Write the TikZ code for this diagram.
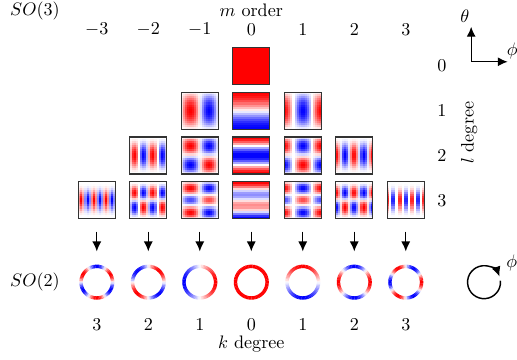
\documentclass[tikz,border=0pt]{standalone}
\usetikzlibrary{positioning,arrows.meta}

\tikzset{
  tile/.style={draw=black!80,line width=0.6pt},
  ring/.style={circle,minimum size=0.68cm,inner sep=0pt},
  seg/.style={line width=1.9pt}
}
\newcommand\bwrcolor[1]{%
  \pgfmathsetmacro\cr{max(0,min(1,1+#1))}%
  \pgfmathsetmacro\cg{max(0,1-abs(#1))}%
  \pgfmathsetmacro\cb{max(0,min(1,1-#1))}%
  \definecolor{cellc}{rgb}{\cr,\cg,\cb}}

\begin{document}
\begin{tikzpicture}[>={Latex[length=5.5pt,width=5pt]}]
            \useasboundingbox (0,0) rectangle (10.04,6.99);
            \node (so3) at (0.68,6.78) {$SO(3)$};
            \node (morder) at (4.88,6.78) {$m$ order};
            \foreach \i in {-3,...,3}
                \node (mlab\i) at (4.88+\i,6.41) {$\i$};
            \foreach \l in {0,...,3}
                \node (llab\l) at (8.58,5.71-0.87*\l) {$\l$};
            \node[rotate=90] (ldeg) at (9.11,4.41) {$l$ degree};
            \coordinate (ax) at (9.15,5.79);
            \coordinate (axth) at (9.15,6.47);
            \coordinate (axph) at (9.86,5.79);
            \draw[->,line width=0.7pt] (ax)--(axth);
            \draw[->,line width=0.7pt] (ax)--(axph);
            \node (th) at (9.03,6.68) {$\theta$};
            \node (ph) at (9.95,6.0) {$\phi$};
            \foreach \l/\m/\f in {0/0/{1},
                1/-1/{sin(\thv)*sin(\phv)}, 1/0/{cos(\thv)}, 1/1/{sin(\thv)*cos(\phv)},
                2/-2/{sin(\thv)*sin(\thv)*sin(2*\phv)}, 2/-1/{sin(2*\thv)*sin(\phv)}, 2/0/{cos(2*\thv)},
                2/1/{sin(2*\thv)*cos(\phv)}, 2/2/{sin(\thv)*sin(\thv)*cos(2*\phv)},
                3/-3/{sin(\thv)*sin(\thv)*sin(\thv)*sin(3*\phv)},
                3/-2/{sin(\thv)*sin(\thv)*cos(\thv)*sin(2*\phv)/0.385},
                3/-1/{sin(\thv)*(5*cos(\thv)*cos(\thv)-1)*sin(\phv)/1.377},
                3/0/{(5*cos(\thv)*cos(\thv)*cos(\thv)-3*cos(\thv))/2},
                3/1/{sin(\thv)*(5*cos(\thv)*cos(\thv)-1)*cos(\phv)/1.377},
                3/2/{sin(\thv)*sin(\thv)*cos(\thv)*cos(2*\phv)/0.385},
                3/3/{sin(\thv)*sin(\thv)*sin(\thv)*cos(3*\phv)}}
            {
                \pgfmathsetmacro\xa{4.88+\m-0.36}
                \pgfmathsetmacro\ya{5.71-0.87*\l+0.36}
                \foreach \i in {0,...,17}
                    \foreach \j in {0,...,17}
                    {
                        \pgfmathsetmacro\phv{(\i+0.5)*20}
                        \pgfmathsetmacro\thv{(\j+0.5)*10}
                        \pgfmathsetmacro\v{\f}
                        \bwrcolor{\v}
                        \fill[cellc] (\xa+\i*0.04,\ya-\j*0.04) rectangle ++(0.042,-0.042);
                    }
                \draw[tile] (\xa,\ya) rectangle ++(0.72,-0.72);
            }
            \node (so2) at (0.68,1.51) {$SO(2)$};
            \foreach \m/\g in {-3/{sin(3*\ang)}, -2/{sin(2*\ang)}, -1/{cos(\ang)}, 0/{1},
                1/{sin(\ang)}, 2/{cos(2*\ang)}, 3/{cos(3*\ang)}}
            {
                \node[ring] (ring\m) at (4.88+\m,1.51) {};
                \coordinate (top\m) at (4.88+\m,2.49);
                \draw[->,line width=0.7pt,shorten >=0.25cm] (top\m)--(ring\m.north);
                \foreach \s in {0,5,...,355}
                {
                    \pgfmathsetmacro\ang{\s+2.5}
                    \pgfmathsetmacro\v{\g}
                    \bwrcolor{\v}
                    \draw[cellc,seg] (ring\m.center) ++(\s:0.307) arc[start angle=\s,end angle=\s+5.6,radius=0.307];
                }
                \pgfmathtruncatemacro\k{abs(\m)}
                \node (klab\m) at (4.88+\m,0.68) {$\k$};
            }
            \node (kdeg) at (4.88,0.31) {$k$ degree};
            \node[ring] (rot) at (9.40,1.51) {};
            \draw[->,line width=0.8pt] (rot.center) ++(5:0.32) arc[start angle=5,end angle=-340,radius=0.32];
            \node (rotph) at (9.94,1.88) {$\phi$};
\end{tikzpicture}
\end{document}
